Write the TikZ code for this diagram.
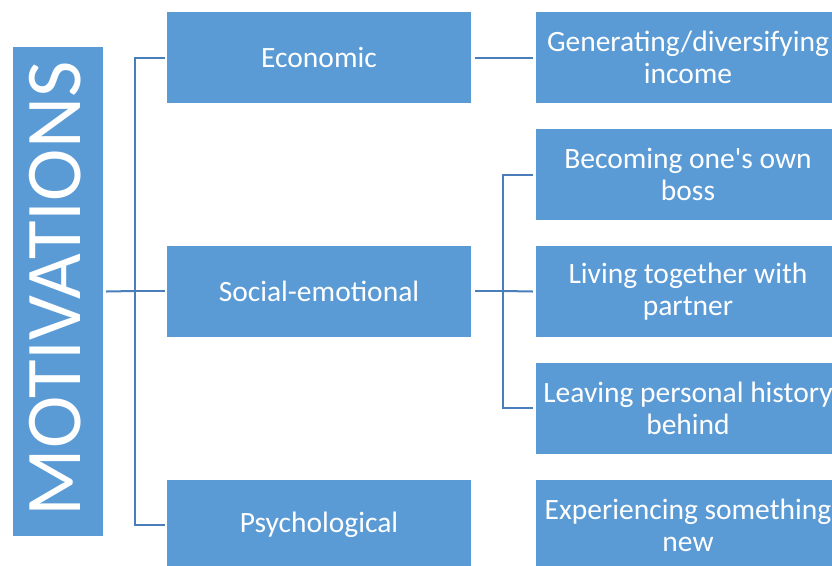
\documentclass[tikz,border=0pt]{standalone}
\usepackage{fontspec}
\setmainfont{Carlito}[Ligatures=TeXOff]
\definecolor{boxblue}{HTML}{5B9BD5}
\definecolor{lineblue}{HTML}{4A7EBB}
\begin{document}
\begin{tikzpicture}[x=1pt,y=-1pt,
  box/.style={fill=boxblue, draw=none, text=white, align=center, inner sep=0pt,
    minimum width=304pt, minimum height=91pt, font=\fontsize{29.5}{32}\selectfont},
  conn/.style={draw=lineblue, line width=2pt}]
\useasboundingbox (0,0) rectangle (832,565);
\begin{scope}
\clip (0,0) rectangle (832,565);
\node[box, minimum width=90pt, minimum height=489pt] (mot) at (58,291.5) {};
\node[text=white, rotate=90, font=\fontsize{79}{82}\selectfont, inner sep=0pt] (motl) at (55.5,289) {MOTIVATIONS};
\node[box] (econ) at (319,57.5) {Economic};
\node[box] (soc) at (319,291) {Social-emotional};
\node[box] (psy) at (319,525) {Psychological};
\node[box] (gen) at (688,57.5) {Generating/diversifying\\income};
\node[box] (boss) at (688,174.5) {Becoming one's own\\boss};
\node[box] (liv) at (688,291.5) {Living together with\\partner};
\node[box] (leav) at (688,408) {Leaving personal history\\behind};
\node[box] (exp) at (688,525) {Experiencing something\\new};
\coordinate (lb) at (135,291);
\coordinate (rb) at (503,291);
\draw[conn] ([xshift=3pt]mot.east) -- (lb);
\draw[conn] ([xshift=-2pt]econ.west) -| (lb) |- ([xshift=-2pt]psy.west);
\draw[conn] (lb) -- ([xshift=-2pt]soc.west);
\draw[conn] ([xshift=4pt]econ.east) -- ([xshift=-3pt]gen.west);
\draw[conn] ([xshift=4pt]soc.east) -- (rb);
\draw[conn] ([xshift=-3pt]boss.west) -| (rb) |- ([xshift=-3pt]leav.west);
\draw[conn] (rb) -- ([xshift=-3pt]liv.west);
\end{scope}
\end{tikzpicture}
\end{document}
